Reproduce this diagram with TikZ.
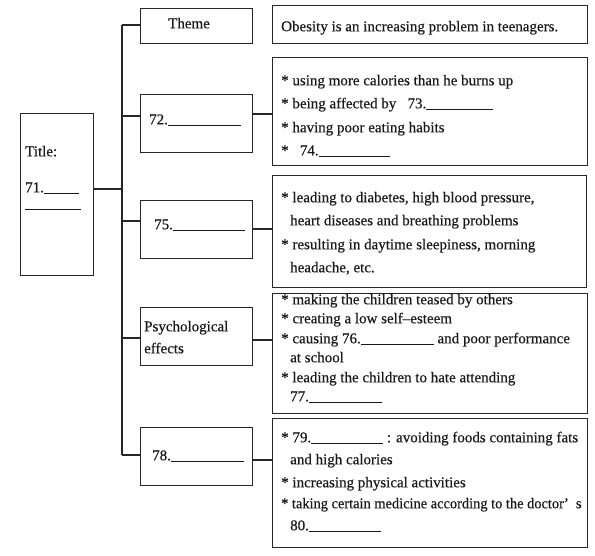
\documentclass[tikz,border=0pt]{standalone}
\usepackage{fontspec}
\setmainfont{Liberation Serif}[FakeBold=0.4]
\newcommand\blankln[1]{\rule[-1.2pt]{#1pt}{0.7pt}}
\begin{document}
\begin{tikzpicture}[x=1pt,y=-1pt,
  box/.style={draw=black!85, line width=1.1pt, inner sep=0pt, anchor=north west},
  txt/.style={anchor=mid west, inner sep=0pt, font=\fontsize{15}{17}\selectfont, text=black!90},
  link/.style={draw=black!85, line width=1.1pt}]
\useasboundingbox[fill=white] (0,0) rectangle (595,555);
% left column boxes
\node[box, minimum width=73pt, minimum height=162pt] (title) at (20,113) {};
\node[box, minimum width=112pt, minimum height=35pt] (theme) at (140,8) {};
\node[box, minimum width=112pt, minimum height=58pt] (b72) at (140,94) {};
\node[box, minimum width=112pt, minimum height=58pt] (b75) at (140,200) {};
\node[box, minimum width=112pt, minimum height=58pt] (bpsy) at (140,307) {};
\node[box, minimum width=112pt, minimum height=58pt] (b78) at (140,427) {};
% right column boxes
\node[box, minimum width=315pt, minimum height=38pt] (r1) at (272,5) {};
\node[box, minimum width=315pt, minimum height=108pt] (r2) at (272,57) {};
\node[box, minimum width=314pt, minimum height=112pt] (r3) at (272,175) {};
\node[box, minimum width=315pt, minimum height=120pt] (r4) at (272,293) {};
\node[box, minimum width=315pt, minimum height=129pt] (r5) at (272,418) {};
% spine and connectors
\coordinate (s0) at (122,25);
\coordinate (s1) at (122,116);
\coordinate (sT) at (122,189);
\coordinate (s2) at (122,221);
\coordinate (s3) at (122,338);
\coordinate (s4) at (122,455);
\draw[link] (s0) -- (s4);
\draw[link] (title.east |- sT) -- (sT);
\draw[link] (s0) -- (theme.west |- s0);
\draw[link] (s1) -- (b72.west |- s1);
\draw[link] (s2) -- (b75.west |- s2);
\draw[link] (s3) -- (bpsy.west |- s3);
\draw[link] (s4) -- (b78.west |- s4);
\coordinate (c1) at (262,114);
\coordinate (c2) at (262,229);
\coordinate (c3) at (262,340);
\coordinate (c4) at (262,460);
\draw[link] (b72.east |- c1) -- (r2.west |- c1);
\draw[link] (b75.east |- c2) -- (r3.west |- c2);
\draw[link] (bpsy.east |- c3) -- (r4.west |- c3);
\draw[link] (b78.east |- c4) -- (r5.west |- c4);
% left texts
\node[txt] (tTitle) at (25,154) {Title:};
\node[txt] (t71) at (25,190) {71.\blankln{35}};
\node[txt] (t71b) at (25,206) {\blankln{56}};
\node[txt] (tTheme) at (168,26) {Theme};
\node[txt] (t72) at (149,122) {72.\blankln{73}};
\node[txt] (t75) at (154,227) {75.\blankln{72}};
\node[txt] (tPsy1) at (144,329) {Psychological};
\node[txt] (tPsy2) at (144,351) {effects};
\node[txt] (t78) at (152,458) {78.\blankln{73}};
% right texts
\node[txt] (a1) at (281,29) {Obesity is an increasing problem in teenagers.};
\node[txt] (a2) at (281,83) {* using more calories than he burns up};
\node[txt] (a3) at (281,106) {* being affected by\ \ \ 73.\blankln{67}};
\node[txt] (a4) at (281,130) {* having poor eating habits};
\node[txt] (a5) at (281,153) {*\ \ \ 74.\blankln{71}};
\node[txt] (b1) at (281,200) {* leading to diabetes, high blood pressure,};
\node[txt] (b2) at (290,223) {heart diseases and breathing problems};
\node[txt] (b3) at (281,247) {* resulting in daytime sleepiness, morning};
\node[txt] (b4) at (290,270) {headache, etc.};
\node[txt] (d1) at (281,302) {* making the children teased by others};
\node[txt] (d2) at (281,321) {* creating a low self–esteem};
\node[txt] (d3) at (281,341) {* causing 76.\blankln{73} and poor performance};
\node[txt] (d4) at (290,360) {at school};
\node[txt] (d5) at (281,380) {* leading the children to hate attending};
\node[txt] (d6) at (290,399) {77.\blankln{73}};
\node[txt] (e1) at (281,440) {* 79.\blankln{72} : avoiding foods containing fats};
\node[txt] (e2) at (290,462) {and high calories};
\node[txt] (e3) at (281,485) {* increasing physical activities};
\node[txt] (e4) at (281,506) {{\addfontfeatures{FakeStretch=0.96}* taking certain medicine according to the doctor}’\hspace{7pt}s};
\node[txt] (e5) at (290,528) {80.\blankln{72}};
\end{tikzpicture}
\end{document}
